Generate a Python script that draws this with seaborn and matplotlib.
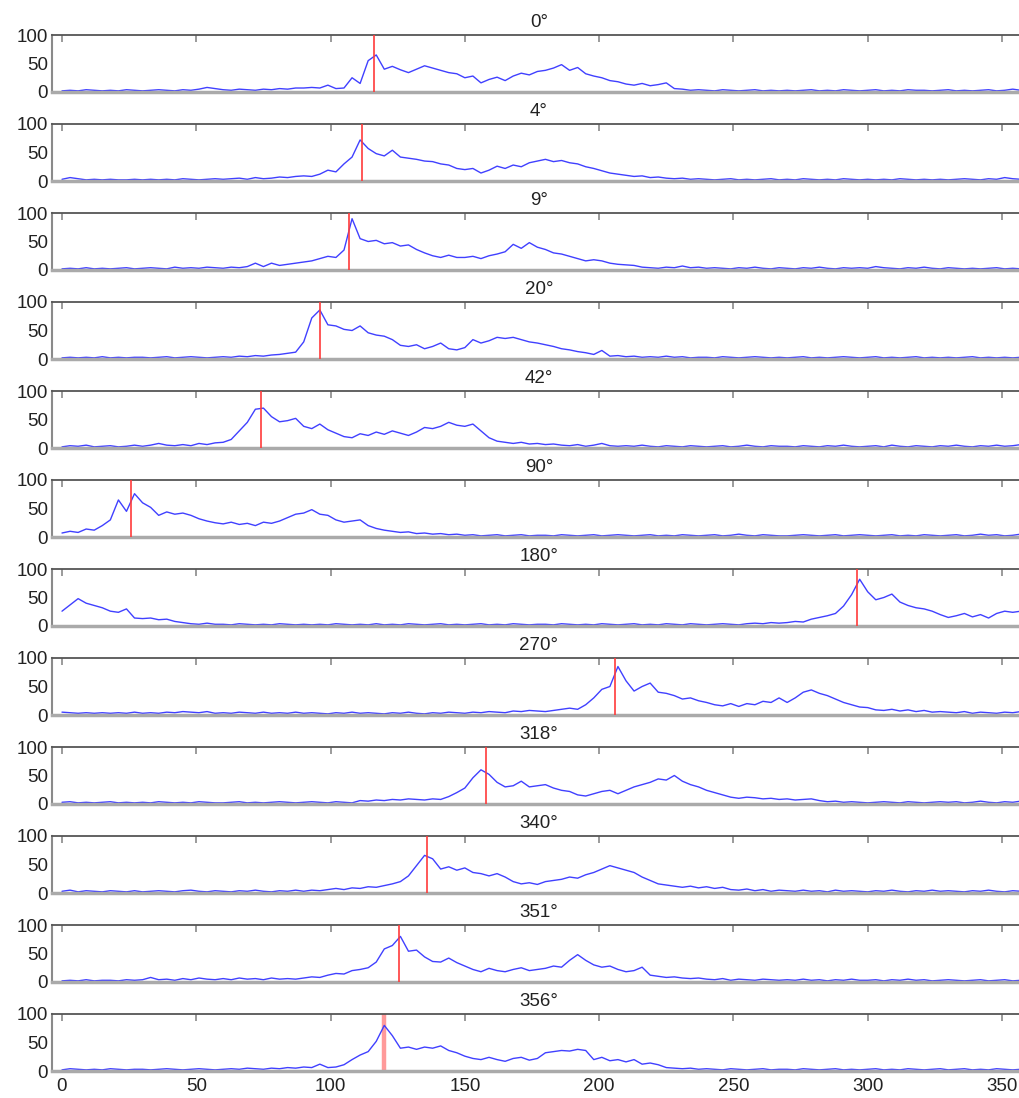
import numpy as np
import pandas as pd
import matplotlib
matplotlib.use('Agg')
import matplotlib.pyplot as plt
import seaborn as sns

# 위치 축 (3 단위 간격)
positions = list(range(0, 360, 3))

angles = ['0°', '4°', '9°', '20°', '42°', '90°', '180°', '270°', '318°', '340°', '351°', '356°']
peak_pos = [116.2, 111.7, 106.9, 96.1, 74.1, 25.7, 296.0, 205.9, 157.9, 135.9, 125.5, 119.9]

s_0 = [2, 3, 2, 4, 3, 2, 3, 2, 4, 3,
       2, 3, 4, 3, 2, 4, 3, 5, 8, 6,
       4, 3, 5, 4, 3, 5, 4, 6, 5, 7,
       7, 8, 7, 12, 6, 7, 25, 15, 55, 65,
       40, 45, 39, 34, 40, 46, 42, 38, 34, 32,
       25, 28, 16, 22, 26, 20, 28, 33, 30, 36,
       38, 42, 48, 38, 43, 32, 28, 25, 20, 18,
       14, 12, 15, 11, 13, 16, 6, 5, 3, 4,
       3, 2, 4, 3, 2, 3, 4, 2, 3, 2,
       3, 2, 3, 4, 2, 3, 2, 4, 3, 2,
       3, 4, 2, 3, 2, 4, 3, 3, 2, 3,
       4, 2, 3, 2, 3, 4, 2, 3, 5, 3]

s_4 = [3, 6, 4, 2, 3, 2, 3, 2, 2, 3,
       2, 3, 2, 3, 2, 4, 3, 2, 3, 4,
       3, 4, 5, 3, 6, 4, 5, 7, 6, 8,
       9, 8, 12, 19, 16, 30, 42, 72, 57, 48,
       44, 54, 42, 40, 38, 35, 34, 30, 28, 22,
       20, 22, 14, 19, 26, 22, 28, 25, 32, 35,
       38, 34, 36, 32, 30, 25, 22, 18, 14, 12,
       10, 8, 9, 6, 7, 5, 4, 5, 3, 4,
       3, 2, 3, 4, 2, 3, 2, 3, 4, 2,
       3, 2, 4, 3, 2, 3, 2, 4, 3, 2,
       3, 2, 3, 2, 4, 3, 2, 3, 2, 3,
       2, 3, 4, 3, 2, 4, 3, 6, 4, 3]

s_9 = [2, 3, 2, 4, 2, 3, 2, 3, 4, 2,
       3, 4, 3, 2, 5, 3, 4, 3, 5, 4,
       3, 5, 4, 6, 12, 6, 12, 8, 10, 12,
       14, 16, 20, 24, 22, 35, 90, 55, 50, 52,
       46, 48, 42, 44, 36, 30, 25, 22, 26, 22,
       22, 24, 20, 25, 28, 32, 45, 38, 48, 40,
       36, 30, 28, 24, 20, 16, 18, 16, 12, 10,
       9, 8, 5, 4, 3, 5, 4, 7, 4, 5,
       3, 4, 3, 2, 4, 3, 5, 3, 2, 4,
       3, 2, 4, 3, 5, 3, 2, 4, 3, 4,
       3, 6, 4, 3, 2, 4, 3, 5, 3, 2,
       4, 3, 2, 3, 2, 3, 4, 2, 3, 2]

s_20 = [2, 3, 2, 3, 2, 4, 2, 3, 2, 3,
        3, 2, 3, 4, 2, 3, 4, 3, 2, 3,
        4, 3, 5, 4, 6, 5, 7, 8, 10, 12,
        30, 72, 86, 60, 58, 52, 50, 58, 46, 42,
        40, 34, 24, 22, 25, 18, 22, 28, 18, 16,
        20, 34, 28, 32, 38, 36, 38, 34, 30, 28,
        25, 22, 18, 16, 13, 11, 8, 15, 5, 6,
        4, 5, 3, 4, 3, 5, 3, 4, 2, 3,
        3, 2, 4, 3, 2, 3, 4, 3, 2, 3,
        2, 3, 4, 2, 3, 2, 3, 4, 3, 2,
        3, 4, 2, 3, 2, 3, 4, 2, 3, 2,
        3, 2, 3, 4, 2, 3, 2, 3, 2, 3]

s_42 = [2, 4, 3, 5, 2, 3, 4, 2, 3, 5,
        3, 5, 8, 5, 4, 6, 4, 8, 6, 9,
        10, 15, 30, 45, 68, 70, 55, 46, 48, 52,
        38, 34, 42, 32, 26, 20, 18, 25, 22, 28,
        24, 30, 26, 22, 28, 36, 34, 38, 45, 40,
        38, 42, 30, 18, 12, 10, 8, 10, 7, 8,
        6, 7, 5, 4, 6, 3, 5, 8, 4, 3,
        4, 3, 5, 3, 2, 4, 3, 2, 4, 3,
        2, 3, 4, 2, 3, 5, 3, 2, 4, 3,
        3, 2, 4, 3, 2, 4, 3, 5, 3, 2,
        3, 4, 2, 5, 3, 2, 4, 3, 2, 4,
        3, 5, 3, 2, 4, 3, 5, 3, 4, 6]

s_90 = [7, 10, 8, 14, 12, 20, 30, 65, 45, 76,
        60, 52, 38, 44, 40, 42, 38, 32, 28, 25,
        23, 26, 22, 24, 20, 26, 24, 28, 34, 40,
        42, 48, 40, 38, 30, 26, 28, 30, 20, 15,
        12, 10, 8, 9, 6, 7, 5, 6, 4, 5,
        3, 4, 2, 3, 4, 2, 3, 4, 2, 3,
        3, 2, 4, 3, 2, 3, 4, 2, 3, 4,
        3, 2, 3, 4, 2, 3, 2, 4, 3, 2,
        3, 4, 2, 3, 5, 3, 2, 4, 3, 2,
        2, 3, 4, 3, 2, 3, 4, 2, 3, 4,
        3, 2, 3, 4, 2, 3, 2, 4, 3, 2,
        3, 4, 2, 3, 5, 3, 4, 2, 3, 5]

s_180 = [26, 37, 48, 40, 36, 32, 26, 24, 30, 14,
         13, 14, 11, 12, 8, 6, 4, 3, 5, 3,
         3, 2, 4, 3, 2, 3, 2, 4, 3, 2,
         3, 2, 3, 2, 4, 3, 2, 3, 2, 4,
         2, 3, 2, 4, 3, 2, 3, 4, 2, 3,
         2, 3, 4, 2, 3, 2, 4, 3, 2, 3,
         3, 2, 4, 3, 2, 3, 2, 4, 3, 2,
         3, 4, 2, 3, 2, 4, 3, 2, 4, 3,
         2, 3, 4, 3, 2, 4, 5, 4, 6, 5,
         6, 8, 7, 12, 15, 18, 22, 35, 55, 82,
         60, 46, 50, 56, 42, 36, 32, 30, 26, 20,
         15, 18, 22, 16, 20, 14, 22, 26, 24, 26]

s_270 = [5, 4, 3, 4, 3, 4, 3, 4, 3, 5,
         3, 4, 3, 5, 4, 6, 5, 4, 6, 3,
         4, 3, 5, 4, 3, 5, 3, 4, 3, 5,
         3, 4, 3, 2, 4, 3, 5, 3, 4, 3,
         2, 4, 3, 5, 3, 2, 4, 3, 5, 4,
         3, 5, 4, 6, 5, 4, 7, 6, 8, 7,
         6, 8, 10, 12, 10, 18, 30, 45, 50, 85,
         60, 42, 50, 56, 40, 38, 34, 28, 30, 25,
         22, 18, 16, 20, 15, 20, 18, 24, 22, 30,
         22, 30, 40, 44, 38, 34, 28, 22, 18, 14,
         13, 9, 8, 10, 7, 9, 6, 8, 5, 6,
         5, 4, 6, 3, 5, 4, 3, 5, 4, 6]

s_318 = [3, 4, 2, 3, 2, 3, 4, 2, 3, 2,
         3, 2, 4, 3, 2, 3, 2, 4, 3, 2,
         2, 3, 4, 2, 3, 2, 3, 4, 3, 2,
         3, 4, 3, 2, 4, 3, 2, 6, 5, 7,
         6, 8, 7, 9, 8, 7, 9, 8, 13, 20,
         28, 46, 60, 52, 38, 30, 32, 40, 30, 32,
         34, 28, 24, 22, 16, 14, 18, 22, 24, 18,
         24, 30, 34, 38, 44, 42, 50, 40, 34, 30,
         24, 20, 16, 12, 10, 12, 11, 9, 10, 8,
         9, 7, 8, 9, 6, 4, 5, 3, 4, 3,
         2, 3, 4, 3, 2, 4, 3, 2, 3, 4,
         3, 4, 2, 3, 5, 3, 2, 4, 3, 5]

s_340 = [3, 5, 2, 4, 3, 2, 4, 3, 2, 4,
         2, 3, 4, 3, 2, 4, 5, 3, 2, 4,
         3, 2, 4, 3, 5, 3, 2, 4, 3, 5,
         3, 5, 4, 6, 8, 6, 9, 8, 11, 10,
         13, 16, 20, 30, 48, 66, 60, 42, 46, 40,
         44, 36, 34, 30, 34, 28, 20, 16, 18, 15,
         20, 22, 24, 28, 26, 32, 36, 42, 48, 44,
         40, 36, 28, 22, 16, 14, 12, 10, 12, 9,
         11, 8, 10, 6, 5, 7, 4, 6, 3, 5,
         4, 3, 5, 3, 4, 2, 5, 3, 4, 3,
         2, 4, 3, 5, 3, 2, 4, 3, 5, 3,
         4, 3, 2, 4, 3, 5, 3, 2, 4, 3]

s_351 = [2, 3, 2, 4, 2, 3, 3, 2, 4, 3,
         4, 8, 4, 5, 3, 6, 4, 7, 5, 4,
         6, 4, 7, 5, 6, 4, 7, 5, 6, 5,
         7, 9, 8, 12, 15, 14, 20, 22, 25, 35,
         58, 64, 80, 54, 56, 44, 36, 35, 42, 34,
         28, 22, 18, 24, 20, 18, 22, 25, 20, 22,
         24, 28, 26, 38, 48, 38, 30, 26, 28, 22,
         18, 20, 26, 12, 10, 8, 9, 7, 6, 7,
         5, 4, 6, 3, 5, 4, 3, 5, 4, 3,
         4, 3, 5, 3, 4, 2, 4, 3, 5, 3,
         3, 4, 2, 4, 3, 5, 3, 4, 2, 3,
         4, 3, 2, 3, 4, 2, 3, 4, 2, 3]

s_356 = [2, 4, 3, 2, 3, 2, 4, 3, 2, 3,
         3, 2, 3, 4, 3, 2, 3, 4, 3, 2,
         3, 4, 3, 5, 4, 3, 5, 4, 6, 5,
         7, 6, 12, 6, 7, 11, 20, 28, 34, 52,
         80, 62, 40, 42, 38, 42, 40, 44, 36, 32,
         26, 22, 20, 24, 20, 17, 22, 24, 19, 22,
         32, 34, 36, 35, 38, 36, 20, 24, 18, 20,
         16, 20, 12, 14, 11, 6, 5, 4, 5, 3,
         4, 3, 2, 4, 3, 2, 3, 4, 2, 3,
         3, 2, 4, 3, 2, 3, 4, 2, 3, 2,
         3, 4, 2, 3, 2, 4, 3, 2, 3, 4,
         2, 3, 4, 2, 3, 2, 4, 3, 2, 3]

series = [s_0, s_4, s_9, s_20, s_42, s_90, s_180, s_270, s_318, s_340, s_351, s_356]

# long-form 데이터프레임
rows = []
for ang, vals in zip(angles, series):
    for p, v in zip(positions, vals):
        rows.append((ang, p, v))
df = pd.DataFrame(rows, columns=['angle', 'position', 'count'])

sns.set_style('white')
plt.rcParams['font.family'] = ['Liberation Sans', 'DejaVu Sans']

W, H = 1020, 1098
fig = plt.figure(figsize=(W / 100, H / 100), dpi=100)

# 픽셀 기준 배치
x0_px, scale = 62, 940 / 350
left_px, right_px = 52, 1026
xmin = (left_px - x0_px) / scale
xmax = (right_px - x0_px) / scale

n = len(angles)
for k, ang in enumerate(angles):
    top_px = 35 + 89 * k
    ax = fig.add_axes([left_px / W, 1 - (top_px + 57) / H,
                       (right_px - left_px) / W, 57 / H])
    sub = df[df['angle'] == ang]
    sns.lineplot(data=sub, x='position', y='count', ax=ax,
                 color='#4040ff', linewidth=1.0)
    last = (k == n - 1)
    ax.axvline(peak_pos[k], color='#ff9a9a' if last else '#ff3b3b',
               linewidth=3.2 if last else 1.2, zorder=1 if last else 3)
    ax.set_xlim(xmin, xmax)
    ax.set_ylim(0, 100)
    ax.set_xticks(range(0, 351, 50))
    ax.set_yticks([0, 50, 100])
    ax.tick_params(axis='both', direction='in', length=5, width=1.2,
                   color='#8a8a8a', labelsize=13.5, labelcolor='#222222',
                   top=True, right=True)
    ax.tick_params(axis='y', pad=3)
    ax.tick_params(axis='x', pad=5, labelbottom=last)
    ax.set_xlabel('')
    ax.set_ylabel('')
    ax.set_title(ang, fontsize=13.5, color='#222222', pad=6)
    ax.spines['top'].set_color('#555555')
    ax.spines['top'].set_linewidth(1.3)
    ax.spines['left'].set_color('#8a8a8a')
    ax.spines['left'].set_linewidth(1.5)
    ax.spines['bottom'].set_color('#aaaaaa')
    ax.spines['bottom'].set_linewidth(2.5)
    ax.spines['right'].set_color('#555555')

fig.savefig('out.png', dpi=100)
